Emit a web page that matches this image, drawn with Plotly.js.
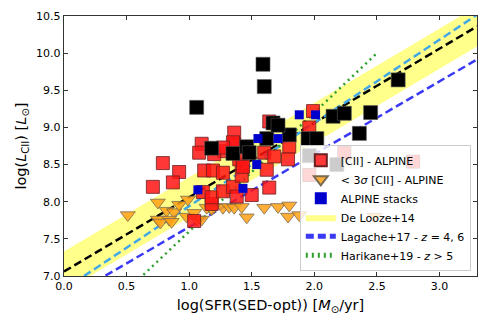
<!DOCTYPE html>
<html>
<head>
<meta charset="utf-8">
<script src="https://cdn.plot.ly/plotly-3.0.1.min.js"></script>
<style>
  html, body { margin: 0; padding: 0; background: #fff; }
  #chart { width: 491px; height: 327px; }
</style>
</head>
<body>
<div id="chart"></div>
<script>
// [CII] detections - ALPINE
const detX = [0.79, 0.92, 0.87, 0.71, 1.04, 1.10, 1.08, 1.28, 1.36, 1.36, 1.12, 1.19, 1.27, 1.42,
              1.62, 1.60, 1.68, 1.40, 1.80, 1.79, 1.64, 1.99, 1.96, 2.24, 2.79, 1.96, 1.11, 1.18,
              1.18, 1.27, 1.35, 1.38, 1.50, 1.64, 1.42, 1.20, 1.35, 1.43, 1.27];
const detY = [8.52, 8.40, 8.26, 8.20, 7.74, 8.78, 8.66, 8.68, 8.93, 8.77, 8.42, 8.42, 8.39, 8.50,
              8.43, 8.66, 8.61, 8.57, 8.74, 8.57, 9.08, 9.22, 9.00, 8.66, 8.54, 8.36, 8.13, 7.97,
              8.06, 8.14, 8.20, 8.07, 8.09, 8.19, 8.35, 8.64, 8.80, 8.47, 8.73];

// < 3 sigma upper limits - ALPINE
const limX = [0.51, 0.75, 0.82, 0.88, 0.92, 0.99, 0.75, 0.84, 0.98, 1.06, 1.10, 1.04, 1.14, 1.20,
              1.27, 1.32, 1.36, 1.42, 1.46, 1.60, 1.71, 1.80, 1.79, 1.88, 2.48, 0.77, 0.86, 1.18];
const limY = [7.82, 7.99, 7.88, 7.86, 7.96, 8.03, 7.76, 7.76, 7.80, 7.76, 7.76, 7.85, 7.92, 7.93,
              7.92, 7.93, 7.92, 7.93, 7.79, 7.92, 7.93, 7.95, 7.80, 7.82, 7.80, 7.72, 7.73, 7.90];

// ALPINE stacks
const stackX = [1.07, 1.43, 1.54, 1.55, 1.71, 1.88, 2.01];
const stackY = [8.16, 8.18, 8.50, 8.85, 8.85, 9.17, 9.17];

// literature sources
const litX = [1.06, 1.59, 1.60, 1.67, 1.18, 1.35, 1.46, 1.48, 1.62, 1.80, 1.95, 2.02, 1.96, 2.15,
              2.24, 2.45, 2.36, 2.67, 2.18, 1.71];
const litY = [9.27, 9.85, 9.55, 9.06, 8.72, 8.65, 8.74, 8.66, 8.85, 8.90, 8.85, 8.85, 8.62, 9.15,
              9.19, 9.20, 8.92, 9.64, 8.50, 9.03];

// relations: log L = a * log SFR + b
const relX = [0, 3.3];
const delooze = { a: 1.0, b: 7.06, sig: 0.27 };
const lagache4 = { a: 1.12, b: 6.82 };
const lagache6 = { a: 0.98, b: 6.68 };
const harikaneX = [0.6, 2.5];
const harikane = { a: 1.6, b: 6.0 };

function rel(p, xs, off) {
    return xs.map(x => p.a * x + p.b + (off || 0));
}

const traces = [
    {
        x: relX, y: rel(delooze, relX, -delooze.sig),
        mode: 'lines', line: { width: 0, color: 'rgba(0,0,0,0)' },
        showlegend: false, hoverinfo: 'skip'
    },
    {
        x: relX, y: rel(delooze, relX, delooze.sig),
        mode: 'lines', line: { width: 0, color: 'rgba(0,0,0,0)' },
        fill: 'tonexty', fillcolor: 'rgba(255,255,60,0.6)',
        name: 'De Looze+14', legendrank: 4
    },
    {
        x: relX, y: rel(delooze, relX),
        mode: 'lines', line: { color: '#000000', width: 2.5, dash: '8px,4px' },
        showlegend: false
    },
    {
        x: relX, y: rel(lagache4, relX),
        mode: 'lines', line: { color: '#45a8e6', width: 2.5, dash: '8px,4px' },
        showlegend: false
    },
    {
        x: relX, y: rel(lagache6, relX),
        mode: 'lines', line: { color: '#3a3af5', width: 2.5, dash: '8px,4px' },
        name: 'Lagache+17 - <i>z</i> = 4, 6', legendrank: 5
    },
    {
        x: harikaneX, y: rel(harikane, harikaneX),
        mode: 'lines', line: { color: '#2ca02c', width: 2.5, dash: '2px,4px' },
        name: 'Harikane+19 - <i>z</i> > 5', legendrank: 6
    },
    {
        x: limX, y: limY, mode: 'markers',
        marker: { symbol: 'triangle-down', size: 13, color: 'rgba(255,160,20,0.85)',
                  line: { color: '#7a6a50', width: 0.8 } },
        name: '< 3<i>σ</i> [CII] - ALPINE', legendrank: 2
    },
    {
        x: detX, y: detY, mode: 'markers',
        marker: { symbol: 'square', size: 13, color: 'rgba(255,20,20,0.85)',
                  line: { color: '#6a2020', width: 0.8 } },
        name: '[CII] - ALPINE', legendrank: 1
    },
    {
        x: litX, y: litY, mode: 'markers',
        marker: { symbol: 'square', size: 14, color: '#000000',
                  line: { color: '#555555', width: 0.6 } },
        showlegend: false
    },
    {
        x: stackX, y: stackY, mode: 'markers',
        marker: { symbol: 'square', size: 9, color: '#0000cc' },
        name: 'ALPINE stacks', legendrank: 3
    }
];

const axisCommon = {
    showgrid: false, zeroline: false,
    showline: true, linecolor: '#333333', linewidth: 1.2, mirror: 'ticks',
    ticks: 'inside', ticklen: 4, tickwidth: 1, tickcolor: '#333333',
    dtick: 0.5, tickformat: '.1f',
    tickfont: { family: 'DejaVu Sans', size: 11, color: '#000' }
};

const layout = {
    width: 491, height: 327,
    margin: { l: 64, r: 14, t: 16, b: 51 },
    paper_bgcolor: '#ffffff', plot_bgcolor: '#ffffff',
    font: { family: 'DejaVu Sans', color: '#000' },
    xaxis: Object.assign({}, axisCommon, {
        range: [0, 3.3], tick0: 0,
        title: { text: 'log(SFR(SED-opt)) [<i>M</i><sub>⊙</sub>/yr]',
                 font: { size: 14.5 }, standoff: 7 }
    }),
    yaxis: Object.assign({}, axisCommon, {
        range: [7, 10.5], tick0: 7,
        title: { text: 'log(<i>L</i><sub>CII</sub>) [<i>L</i><sub>⊙</sub>]',
                 font: { size: 14.5 }, standoff: 6 }
    }),
    legend: {
        x: 0.985, y: 0.02, xanchor: 'right', yanchor: 'bottom',
        bgcolor: 'rgba(255,255,255,0.8)', bordercolor: '#cccccc', borderwidth: 1,
        font: { family: 'DejaVu Sans', size: 11 },
        traceorder: 'normal', tracegroupgap: 0, itemwidth: 30, itemsizing: 'constant'
    },
    showlegend: true
};

Plotly.newPlot('chart', traces, layout, { displayModeBar: false, staticPlot: true });
</script>
</body>
</html>
